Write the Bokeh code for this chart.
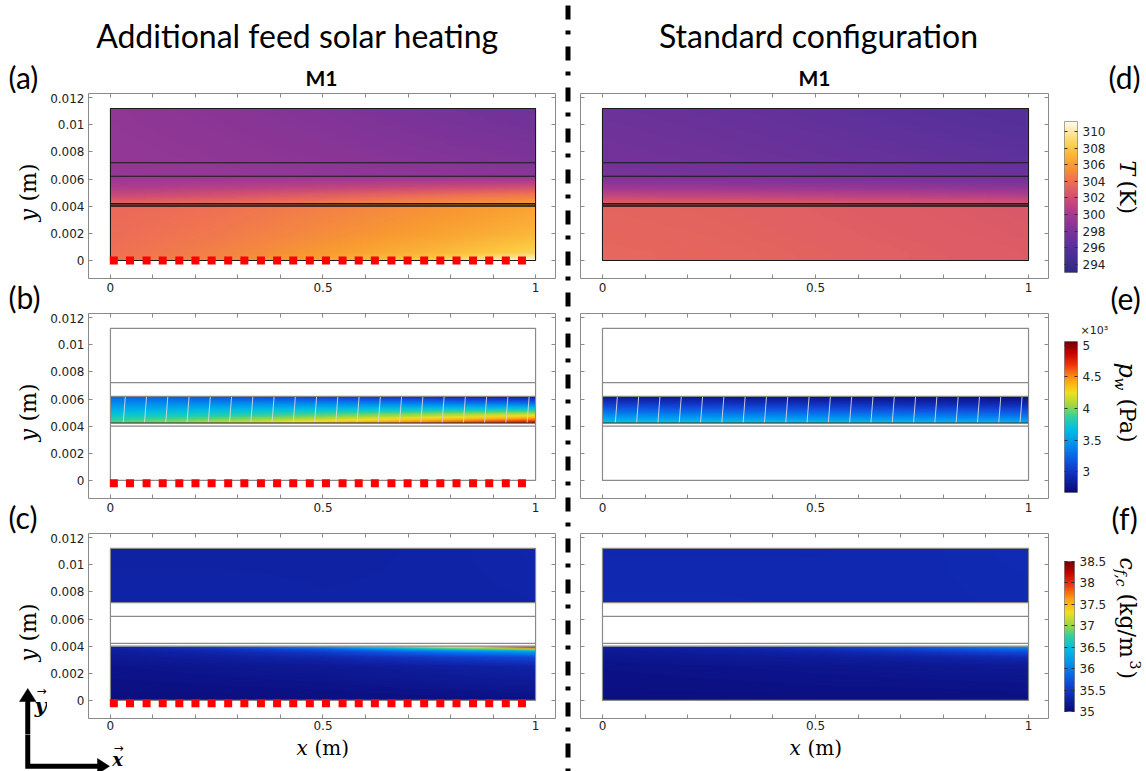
import numpy as np
from bokeh.plotting import figure
from bokeh.models import (Range1d, LinearAxis, FixedTicker, LinearColorMapper,
                          Label, Title)
from bokeh.layouts import row, column
from bokeh.embed import file_html
from bokeh.resources import INLINE

# ------------------------------------------------------------------ data
X_NODES = [0.0, 0.25, 0.5, 0.75, 1.0]                     # x (m) sample columns
LAYER_Y = [0.0, 0.0040, 0.0042, 0.0062, 0.0072, 0.0112]   # layer interfaces (m)

# Temperature T (K)
T_FEED_Y = [0.0, 0.0006, 0.002, 0.004]
T_SOLAR_FEED = [
    [304.2, 305.1, 306.5, 308.4, 311.0],
    [304.0, 304.8, 305.9, 307.1, 308.5],
    [303.8, 304.4, 305.3, 306.2, 307.2],
    [303.6, 304.0, 304.7, 305.5, 306.3],
]
T_STD_FEED = [
    [303.5, 303.4, 303.2, 303.0, 302.8],
    [303.5, 303.4, 303.2, 303.0, 302.8],
    [303.4, 303.3, 303.1, 302.9, 302.7],
    [303.3, 303.2, 303.0, 302.8, 302.6],
]
T_GAP_Y = [0.0042, 0.0048, 0.0054, 0.0062]
T_SOLAR_GAP = [
    [303.4, 303.8, 304.5, 305.3, 306.1],
    [301.6, 302.2, 303.0, 303.8, 304.5],
    [300.3, 300.7, 301.1, 301.6, 302.1],
    [299.4, 299.4, 299.4, 299.3, 299.2],
]
T_STD_GAP = [
    [303.0, 302.9, 302.7, 302.5, 302.3],
    [301.3, 301.2, 301.0, 300.8, 300.6],
    [299.5, 299.4, 299.2, 299.0, 298.8],
    [298.0, 297.9, 297.7, 297.5, 297.3],
]
T_PLATE_Y = [0.0062, 0.0072]
T_SOLAR_PLATE = [[299.3, 299.2, 299.1, 298.9, 298.7],
                 [299.2, 299.0, 298.8, 298.6, 298.3]]
T_STD_PLATE = [[297.9, 297.8, 297.6, 297.4, 297.2],
               [297.6, 297.4, 297.2, 296.9, 296.6]]
T_TOP_Y = [0.0072, 0.0112]
T_SOLAR_TOP = [[299.2, 299.0, 298.8, 298.5, 298.2],
               [299.0, 298.7, 298.3, 297.8, 297.3]]
T_STD_TOP = [[297.6, 297.4, 297.1, 296.8, 296.5],
             [297.2, 296.9, 296.5, 296.1, 295.7]]

# Water vapour partial pressure p_w (x10^3 Pa), air gap only
PW_Y = [0.0042, 0.0045, 0.0050, 0.0056, 0.0062]
PW_SOLAR = [
    [3.95, 4.15, 4.40, 4.65, 4.95],
    [3.85, 3.98, 4.15, 4.35, 4.55],
    [3.65, 3.72, 3.82, 3.92, 4.00],
    [3.45, 3.45, 3.45, 3.42, 3.38],
    [3.25, 3.15, 3.05, 2.95, 2.80],
]
PW_STD = [
    [3.76, 3.74, 3.72, 3.69, 3.66],
    [3.58, 3.56, 3.53, 3.50, 3.47],
    [3.32, 3.29, 3.26, 3.23, 3.20],
    [3.05, 3.02, 2.99, 2.95, 2.92],
    [2.78, 2.76, 2.74, 2.72, 2.70],
]

# Feed / coolant salt concentration c_f,c (kg/m^3)
C_FEED_Y = [0.0, 0.0025, 0.0032, 0.0036, 0.0038, 0.0039, 0.0040]
C_SOLAR_FEED = [
    [35.05, 35.05, 35.06, 35.07, 35.08],
    [35.12, 35.15, 35.18, 35.24, 35.30],
    [35.18, 35.24, 35.34, 35.50, 35.65],
    [35.22, 35.34, 35.55, 35.95, 36.25],
    [35.26, 35.45, 35.80, 36.50, 37.20],
    [35.28, 35.55, 36.05, 37.00, 38.00],
    [35.30, 35.65, 36.35, 37.50, 38.50],
]
C_STD_FEED = [
    [35.05, 35.05, 35.06, 35.06, 35.07],
    [35.10, 35.12, 35.14, 35.16, 35.18],
    [35.14, 35.18, 35.22, 35.28, 35.38],
    [35.18, 35.24, 35.32, 35.48, 35.70],
    [35.20, 35.28, 35.42, 35.65, 35.95],
    [35.22, 35.31, 35.48, 35.75, 36.10],
    [35.24, 35.34, 35.52, 35.85, 36.25],
]
C_TOP_Y = [0.0072, 0.0112]
C_SOLAR_TOP = [[35.30, 35.30, 35.29, 35.29, 35.30],
               [35.28, 35.28, 35.28, 35.29, 35.32]]
C_STD_TOP = [[35.36, 35.36, 35.35, 35.35, 35.36],
             [35.34, 35.34, 35.34, 35.35, 35.38]]

# heater elements (red squares) and air-gap flow lines
HEATER_X = [0.008, 0.046, 0.085, 0.123, 0.162, 0.200, 0.238, 0.277, 0.315,
            0.354, 0.392, 0.430, 0.469, 0.507, 0.546, 0.584, 0.622, 0.661,
            0.699, 0.738, 0.776, 0.814, 0.853, 0.891, 0.930, 0.968]
HEATER_Y = [0.0, -0.0002, -0.0002]
STREAM_X = [0.03, 0.08, 0.13, 0.18, 0.23, 0.28, 0.33, 0.38, 0.43, 0.48,
            0.53, 0.58, 0.63, 0.68, 0.73, 0.78, 0.83, 0.88, 0.93, 0.98]
STREAM_TILT = 0.005

# axes / colour bars
X_TICKS = [0.0, 0.1, 0.2, 0.3, 0.4, 0.5, 0.6, 0.7, 0.8, 0.9, 1.0]
X_TICK_LABELS = ["0", "", "", "", "", "0.5", "", "", "", "", "1"]
Y_TICKS = [0.0, 0.002, 0.004, 0.006, 0.008, 0.01, 0.012]
Y_TICK_LABELS = ["0", "0.002", "0.004", "0.006", "0.008", "0.01", "0.012"]
T_LOW, T_HIGH = 293.0, 311.2
T_TICKS = [294, 296, 298, 300, 302, 304, 306, 308, 310]
T_TICK_LABELS = ["294", "296", "298", "300", "302", "304", "306", "308", "310"]
PW_LOW, PW_HIGH = 2.67, 5.06
PW_TICKS = [3.0, 3.5, 4.0, 4.5, 5.0]
PW_TICK_LABELS = ["3", "3.5", "4", "4.5", "5"]
C_LOW, C_HIGH = 35.0, 38.5
C_TICKS = [35.0, 35.5, 36.0, 36.5, 37.0, 37.5, 38.0, 38.5]
C_TICK_LABELS = ["35", "35.5", "36", "36.5", "37", "37.5", "38", "38.5"]

COLUMN_TITLES = ["Additional feed solar heating", "Standard configuration"]
MODEL_NAME = "M1"
PANEL_LETTERS = ["(a)", "(b)", "(c)", "(d)", "(e)", "(f)"]

# ------------------------------------------------------------------ palettes
def make_palette(anchors, n=256):
    pos = [a[0] for a in anchors]
    rgb = [tuple(int(a[1][i:i + 2], 16) for i in (1, 3, 5)) for a in anchors]
    out = []
    for k in range(n):
        t = k / (n - 1)
        c = [int(round(np.interp(t, pos, [v[i] for v in rgb]))) for i in range(3)]
        out.append("#%02x%02x%02x" % tuple(c))
    return out

THERMAL = make_palette([(0.0, "#2f2a7e"), (0.055, "#3d2d8a"), (0.165, "#57309a"),
                        (0.275, "#7b3399"), (0.385, "#a53a91"), (0.495, "#d04e72"),
                        (0.604, "#ee6f55"), (0.714, "#f99b30"), (0.824, "#fcc840"),
                        (0.934, "#fde9a6"), (1.0, "#fffbee")])
RAINBOW = make_palette([(0.0, "#0a0a78"), (0.1, "#1028b0"), (0.2, "#1050e0"),
                        (0.32, "#0090f0"), (0.42, "#00c0e0"), (0.5, "#30d0a0"),
                        (0.58, "#a0d840"), (0.66, "#f0e020"), (0.75, "#ffa010"),
                        (0.85, "#f03010"), (0.93, "#c00000"), (1.0, "#700000")])

# ------------------------------------------------------------------ fields
NX, NY = 200, 224
XS = X_NODES[0] + (np.arange(NX) + 0.5) * (X_NODES[-1] - X_NODES[0]) / NX
YS = LAYER_Y[0] + (np.arange(NY) + 0.5) * (LAYER_Y[-1] - LAYER_Y[0]) / NY


def layered_field(parts):
    F = np.full((NY, NX), np.nan)
    for y0, y1, yn, table in parts:
        t = np.asarray(table, float)
        cols = np.array([np.interp(XS, X_NODES, r) for r in t])
        m = (YS >= y0) & (YS < y1)
        for j in range(NX):
            F[m, j] = np.interp(YS[m], yn, cols[:, j])
    return F.astype(np.float32)


L = LAYER_Y
FIELD_T_SOLAR = layered_field([(L[0], L[1], T_FEED_Y, T_SOLAR_FEED), (L[1], L[3], T_GAP_Y, T_SOLAR_GAP),
                               (L[3], L[4], T_PLATE_Y, T_SOLAR_PLATE), (L[4], L[5], T_TOP_Y, T_SOLAR_TOP)])
FIELD_T_STD = layered_field([(L[0], L[1], T_FEED_Y, T_STD_FEED), (L[1], L[3], T_GAP_Y, T_STD_GAP),
                             (L[3], L[4], T_PLATE_Y, T_STD_PLATE), (L[4], L[5], T_TOP_Y, T_STD_TOP)])
FIELD_PW_SOLAR = layered_field([(L[2], L[3], PW_Y, PW_SOLAR)])
FIELD_PW_STD = layered_field([(L[2], L[3], PW_Y, PW_STD)])
FIELD_C_SOLAR = layered_field([(L[0], L[1], C_FEED_Y, C_SOLAR_FEED), (L[4], L[5], C_TOP_Y, C_SOLAR_TOP)])
FIELD_C_STD = layered_field([(L[0], L[1], C_FEED_Y, C_STD_FEED), (L[4], L[5], C_TOP_Y, C_STD_TOP)])

# ------------------------------------------------------------------ geometry (pixels)
FRAME_X = (-0.0516, 1.0469)
FRAME_Y = (-0.00133, 0.0123)
PANEL_H = [220, 220, 201]
PANEL_BB = [35, 35, 16]
PANEL_STANDOFF = [4, 4, 2]
CB_BT = [28, 28, 28]
CB_BB = [41, 41, 23]
COMMON = dict(output_backend="svg", toolbar_location=None, frame_align=False)


def axis(ticks, labels, show, tick_len=4, color="#8a8a8a", size="12px", standoff=4):
    ov = {t: (lab if show else "") for t, lab in zip(ticks, labels)}
    return LinearAxis(ticker=FixedTicker(ticks=ticks), major_label_overrides=ov,
                      axis_line_color=None, major_tick_in=tick_len, major_tick_out=0,
                      major_tick_line_color=color, minor_tick_line_color=None,
                      major_label_text_font="DejaVu Sans",
                      major_label_text_font_size=size if show else "0px",
                      major_label_text_color="#222222",
                      major_label_standoff=standoff if show else 0)


def panel(field, palette, low, high, r, left_side, kind):
    width = 514 if left_side else 480
    bl = 40 if left_side else 6
    p = figure(width=width, height=PANEL_H[r], x_range=Range1d(*FRAME_X), y_range=Range1d(*FRAME_Y),
               x_axis_type=None, y_axis_type=None, min_border_left=bl, min_border_right=6,
               min_border_top=0, min_border_bottom=PANEL_BB[r], **COMMON)
    p.outline_line_color = "#8a8a8a"
    p.outline_line_width = 1
    p.background_fill_color = "white"
    p.border_fill_color = "white"
    p.add_layout(axis(X_TICKS, X_TICK_LABELS, True, standoff=PANEL_STANDOFF[r]), "below")
    p.add_layout(axis(X_TICKS, X_TICK_LABELS, False), "above")
    p.add_layout(axis(Y_TICKS, Y_TICK_LABELS, left_side, standoff=4), "left")
    p.add_layout(axis(Y_TICKS, Y_TICK_LABELS, False), "right")

    mapper = LinearColorMapper(palette=palette, low=low, high=high, nan_color=(0, 0, 0, 0))
    p.image(image=[field], x=X_NODES[0], y=LAYER_Y[0], dw=X_NODES[-1] - X_NODES[0],
            dh=LAYER_Y[-1] - LAYER_Y[0], color_mapper=mapper)

    if kind == "T":
        p.quad(left=X_NODES[0], right=X_NODES[-1], bottom=LAYER_Y[1], top=LAYER_Y[2],
               fill_color="#1e1010", fill_alpha=0.6, line_color=None)
        lc, lw = "#1a1a1a", 1.1
    else:
        lc, lw = "#8a8a8a", 1.2
    if kind == "P":
        p.segment(x0=STREAM_X, y0=[LAYER_Y[2]] * len(STREAM_X),
                  x1=[x + STREAM_TILT for x in STREAM_X], y1=[LAYER_Y[3]] * len(STREAM_X),
                  line_color="#d8d8d8", line_width=1, line_alpha=0.9)
        p.segment(x0=[X_NODES[0]], y0=[LAYER_Y[2] + 0.00004], x1=[X_NODES[-1]],
                  y1=[LAYER_Y[2] + 0.00004], line_color="black", line_alpha=0.45, line_width=2)
    inner = LAYER_Y[1:5]
    p.segment(x0=[X_NODES[0]] * 4, y0=inner, x1=[X_NODES[-1]] * 4, y1=inner,
              line_color=lc, line_width=lw)
    p.quad(left=X_NODES[0], right=X_NODES[-1], bottom=LAYER_Y[0], top=LAYER_Y[-1],
           fill_color=None, line_color=lc, line_width=lw)
    if left_side:
        p.scatter(HEATER_X, [HEATER_Y[r]] * len(HEATER_X), marker="square", size=8,
                  fill_color="#ff0000", line_color=None)
    return p


def colorbar(palette, low, high, ticks, labels, r, exponent=None):
    p = figure(width=55, height=PANEL_H[r], x_range=Range1d(0, 1), y_range=Range1d(low, high),
               x_axis_type=None, y_axis_type=None, min_border_left=10, min_border_right=32,
               min_border_top=CB_BT[r], min_border_bottom=CB_BB[r], **COMMON)
    p.outline_line_color = "#8a8a8a"
    ramp = np.linspace(low, high, 256).reshape(-1, 1)
    mapper = LinearColorMapper(palette=palette, low=low, high=high)
    p.image(image=[ramp], x=0, y=low, dw=1, dh=high - low, color_mapper=mapper)
    p.add_layout(axis(ticks, labels, True, tick_len=3, color="#333333", size="12px",
                      standoff=5), "right")
    p.add_layout(axis(ticks, labels, False, tick_len=3, color="#333333"), "left")
    if exponent:
        p.add_layout(Title(text=exponent, align="left", offset=16, vertical_align="bottom",
                           standoff=9, text_font="DejaVu Sans", text_font_size="11px",
                           text_font_style="normal", text_color="#222222"), "above")
    return p


def canvas(x0, x1, y0, y1):
    """A blank figure whose frame covers page pixels [x0,x1] x [y0,y1]."""
    c = figure(width=x1 - x0, height=y1 - y0, x_range=Range1d(x0, x1), y_range=Range1d(y1, y0),
               x_axis_type=None, y_axis_type=None, min_border=0, **COMMON)
    c.outline_line_color = None
    c.background_fill_color = "white"
    c.border_fill_color = "white"
    return c


def put(c, s, x, y, size, font="Lato", style="normal", align="left", angle=0.0):
    c.add_layout(Label(x=x, y=y, text=s, text_font=font, text_font_size=f"{size}px",
                       text_font_style=style, text_align=align, text_baseline="middle",
                       angle=angle, text_color="black"))


# ------------------------------------------------------------------ panels
pa = panel(FIELD_T_SOLAR, THERMAL, T_LOW, T_HIGH, 0, True, "T")
pb = panel(FIELD_PW_SOLAR, RAINBOW, PW_LOW, PW_HIGH, 1, True, "P")
pc = panel(FIELD_C_SOLAR, RAINBOW, C_LOW, C_HIGH, 2, True, "C")
pd = panel(FIELD_T_STD, THERMAL, T_LOW, T_HIGH, 0, False, "T")
pe = panel(FIELD_PW_STD, RAINBOW, PW_LOW, PW_HIGH, 1, False, "P")
pf = panel(FIELD_C_STD, RAINBOW, C_LOW, C_HIGH, 2, False, "C")
cbd = colorbar(THERMAL, T_LOW, T_HIGH, T_TICKS, T_TICK_LABELS, 0)
cbe = colorbar(RAINBOW, PW_LOW, PW_HIGH, PW_TICKS, PW_TICK_LABELS, 1, exponent="\u00d710\u00b3")
cbf = colorbar(RAINBOW, C_LOW, C_HIGH, C_TICKS, C_TICK_LABELS, 2)

# ------------------------------------------------------------------ text strips
SERIF = "DejaVu Serif"
CW, CCW = -np.pi / 2, np.pi / 2
ARROW_PTS = [(25, 768), (25, 701), (19, 701), (27.25, 688), (35.5, 701), (29.5, 701),
             (29.5, 763.5), (97, 763.5), (97, 758), (109, 765.75), (97, 773.5), (97, 768)]
TOP_H, BAND_BOTTOM = 93, 734

hdr_l = canvas(0, 561, 0, TOP_H)
put(hdr_l, COLUMN_TITLES[0], 297, 35, 32, align="center")
put(hdr_l, MODEL_NAME, 321, 77, 21, style="bold", align="center")
put(hdr_l, PANEL_LETTERS[0], 8, 76, 30)

hdr_r = canvas(574, 1146, 0, TOP_H)
put(hdr_r, COLUMN_TITLES[1], 818, 35, 32, align="center")
put(hdr_r, MODEL_NAME, 814, 77, 21, style="bold", align="center")
put(hdr_r, PANEL_LETTERS[3], 1108, 76, 30)

ls = canvas(0, 47, TOP_H, BAND_BOTTOM)
put(ls, PANEL_LETTERS[1], 8, 296, 30)
put(ls, PANEL_LETTERS[2], 8, 516, 30)
for off in (0, 220, 440):
    put(ls, "y", 28, 221 + off, 22, font=SERIF, style="italic", angle=CCW)
    put(ls, "(m)", 28, 201 + off, 22, font=SERIF, angle=CCW)
ls.patch([p[0] for p in ARROW_PTS], [p[1] for p in ARROW_PTS], fill_color="black",
         line_color="black", line_width=0.5)
put(ls, "y", 40, 705, 21, font=SERIF, style="bold italic", align="center")
put(ls, "\u2192", 41, 690, 12, font="DejaVu Sans", align="center")

bs_l = canvas(0, 561, BAND_BOTTOM, 771)
bs_l.patch([p[0] for p in ARROW_PTS], [p[1] for p in ARROW_PTS], fill_color="black",
           line_color="black", line_width=0.5)
put(bs_l, "x", 117, 759, 18, font=SERIF, style="bold italic", align="center")
put(bs_l, "\u2192", 118, 747, 12, font="DejaVu Sans", align="center")
put(bs_l, "x", 296, 747, 20, font=SERIF, style="italic")
put(bs_l, "(m)", 314, 747, 20, font=SERIF)

bs_r = canvas(574, 1146, BAND_BOTTOM, 771)
put(bs_r, "x", 789, 747, 20, font=SERIF, style="italic")
put(bs_r, "(m)", 807, 747, 20, font=SERIF)

rs = canvas(1109, 1146, TOP_H, BAND_BOTTOM)
put(rs, PANEL_LETTERS[4], 1110, 297, 30)
put(rs, PANEL_LETTERS[5], 1111, 517, 30)
put(rs, "T", 1127, 160, 22, font=SERIF, style="italic", angle=CW)
put(rs, "(K)", 1127, 180, 22, font=SERIF, angle=CW)
put(rs, "p", 1126, 362, 24, font=SERIF, style="italic", angle=CW)
put(rs, "w", 1119, 377, 15, font=SERIF, style="italic", angle=CW)
put(rs, "(Pa)", 1127, 398, 22, font=SERIF, angle=CW)
put(rs, "c", 1127, 557, 22, font=SERIF, style="italic", angle=CW)
put(rs, "f,c", 1120, 569, 14, font=SERIF, style="italic", angle=CW)
put(rs, "(kg/m", 1127, 593, 22, font=SERIF, angle=CW)
put(rs, "3", 1135, 660, 14, font=SERIF, angle=CW)
put(rs, ")", 1127, 670, 22, font=SERIF, angle=CW)

# dash-dot divider
div = canvas(561, 574, 0, 771)
div.line([567.5, 567.5], [5, 771], line_width=5, line_color="black", line_dash="14 11 4 12")

# ------------------------------------------------------------------ layout
left_block = column(hdr_l, row(ls, column(pa, pb, pc)), bs_l)
right_block = column(hdr_r, row(column(pd, pe, pf), column(cbd, cbe, cbf), rs), bs_r)
layout = row(left_block, div, right_block)

open("out.html", "w").write(file_html(layout, INLINE))
